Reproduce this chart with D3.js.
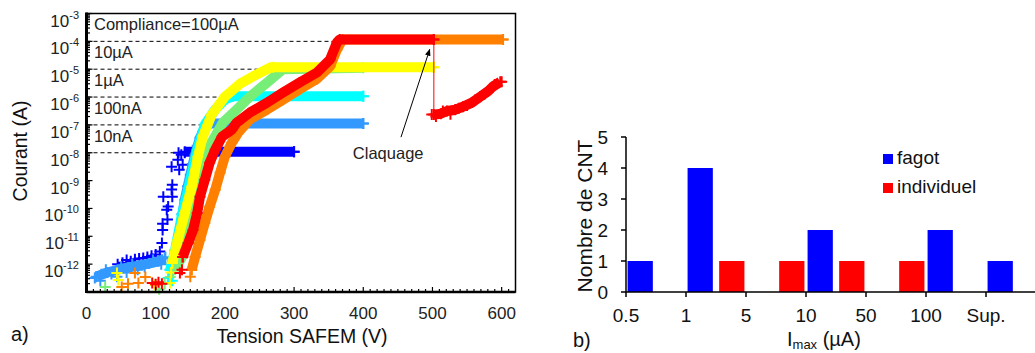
<!DOCTYPE html>
<html><head><meta charset="utf-8">
<script src="https://cdnjs.cloudflare.com/ajax/libs/d3/7.8.5/d3.min.js"></script>
<style>body{margin:0;background:#fff}svg{display:block;font-family:"Liberation Sans",Arial,sans-serif}</style>
</head><body><svg id="c" width="1035" height="353"></svg>
<script>
// ---------- data: panel a ----------
const voltTicks = [0,100,200,300,400,500,600];
const currentExps = [-3,-4,-5,-6,-7,-8,-9,-10,-11,-12];
const complianceExps = [-4,-5,-6,-7,-8];
const complianceLabels = ["Compliance=100µA","10µA","1µA","100nA","10nA"];
const complianceEndV = [356,268,212,174,135];
// series points: [tension V, log10(courant A)]
const darkBlueBand = [[142,-7.96],[300,-7.96]];
const darkBlueMarks = [[45,-12.0],[52,-11.95],[58,-11.85],[64,-11.9],[70,-11.82],[76,-11.8],[82,-11.78],[88,-11.74],[94,-11.7],[100,-11.65],[106,-11.55],[109,-11.24],[110,-10.77],[110,-10.55],[117,-10.4],[116,-10.05],[118,-9.93],[111,-9.58],[124,-9.58],[123,-9.32],[124,-9.15],[123,-8.5],[134,-8.61],[139,-8.43],[132,-8.25],[137,-8.07],[133,-8.0],[142,-8.0],[300,-7.96]];
const lightBlueBand = [[14,-12.45],[30,-12.3],[45,-12.2],[60,-12.12],[75,-12.05],[90,-11.98],[104,-11.9],[113,-11.8]];
const lightBlueRise = [[135,-10.77],[142,-9.69],[150,-8.79],[157,-8.07],[164,-7.46],[171,-7.1],[178,-6.95],[400,-6.95]];
const lightBlueMarks = [[12,-12.5],[20,-12.6],[28,-12.2],[36,-12.35],[44,-12.45],[50,-12.1],[58,-12.3],[66,-12.0],[74,-12.2],[84,-12.1],[96,-11.85],[108,-12.0],[114,-11.75],[121,-12.2],[125,-11.9],[128,-11.67],[132,-11.2],[138,-10.2],[146,-9.2],[153,-8.4],[160,-7.75],[168,-7.25],[400,-6.95]];
const cyanBand = [[121,-12.2],[128,-11.5],[138,-10.23],[150,-8.97],[160,-7.89],[171,-6.99],[186,-6.45],[200,-6.09],[212,-5.97],[400,-5.97]];
const cyanMarks = [[118,-12.5],[121,-12.2],[124,-12.6],[128,-11.5],[400,-5.97]];
const greenBand = [[128,-12.2],[138,-11.74],[147,-10.77],[157,-9.8],[167,-8.72],[176,-7.89],[183,-7.53],[197,-6.92],[217,-6.45],[236,-5.99],[261,-5.48],[284,-5.0],[400,-4.95]];
const greenMarks = [[27,-12.82],[105,-12.9],[113,-12.7],[121,-12.46],[125,-12.3]];
const yellowBand = [[124,-11.96],[132,-11.13],[142,-10.16],[152,-9.22],[161,-8.14],[168,-7.42],[181,-6.63],[200,-5.99],[222,-5.52],[246,-5.19],[265,-4.95],[270,-4.93],[502,-4.93]];
const yellowMarks = [[44,-12.32],[46,-12.57],[99,-12.75],[121,-12.68],[122,-12.3],[124,-11.96],[502,-4.93]];
const orangeBand = [[152,-12.2],[157,-11.74],[164,-11.13],[171,-10.52],[178,-9.94],[186,-9.33],[193,-8.72],[200,-8.14],[210,-7.64],[220,-7.25],[236,-6.8],[261,-6.45],[284,-6.1],[308,-5.72],[333,-5.35],[352,-4.9],[362,-4.3],[370,-3.93],[602,-3.93]];
const orangeMarks = [[51,-12.82],[60,-12.7],[70,-12.32],[75,-12.68],[85,-12.46],[150,-12.45],[152,-12.2],[602,-3.93]];
const redBand = [[139,-11.74],[147,-11.24],[154,-10.77],[160,-10.16],[164,-9.58],[171,-8.97],[178,-8.36],[186,-7.89],[196,-7.42],[210,-7.17],[217,-6.92],[236,-6.56],[261,-6.2],[284,-5.84],[308,-5.48],[333,-5.12],[352,-4.65],[362,-4.04],[366,-3.93],[502,-3.93]];
const redMarks = [[95,-12.68],[100,-12.72],[104,-12.65],[109,-12.7],[135,-12.32],[138,-12.2],[139,-11.74],[502,-3.93]];
const redDrop = [[502,-3.93],[502,-6.6]];
const redAfterBand = [[502,-6.63],[512,-6.6],[521,-6.5],[533,-6.45],[544,-6.35],[557,-6.2],[569,-5.99],[580,-5.8],[587,-5.63],[598,-5.45]];
const redAfterMarks = [[499,-6.63],[505,-6.7],[515,-6.5],[526,-6.62],[538,-6.4],[550,-6.3],[562,-6.1],[575,-5.9],[590,-5.55],[600,-5.45]];
const breakdownArrow = [[454.5,-7.44],[496,-4.29]];
const breakdownLabel = {v:436, e:-8.23, text:"Claquage"};

// ---------- data: panel b ----------
const binLabels = ["0.5","1","5","10","50","100","Sup."];
const fagot = [1,4,0,2,0,2,1];
const individuel = [0,1,1,1,1,0,0];
const countTicks = [0,1,2,3,4,5];

const svg = d3.select("#c");
const txt = "#222";

// ================= panel a =================
const x = d3.scaleLinear().domain([0,620]).range([86.5,515.5]);
const y = d3.scaleLog().domain([1e-13,1e-3]).range([292,13.5]);
const P = d => [x(d[0]), y(Math.pow(10,d[1]))];
const line = d3.line().x(d=>P(d)[0]).y(d=>P(d)[1]);
const gA = svg.append("g");

complianceExps.forEach((e,i)=>{
  gA.append("line").attr("x1",x(0)).attr("x2",x(complianceEndV[i]))
    .attr("y1",y(Math.pow(10,e))).attr("y2",y(Math.pow(10,e)))
    .attr("stroke","#000").attr("stroke-width",1).attr("stroke-dasharray","4,3");
  gA.append("text").attr("x",94).attr("y",y(Math.pow(10,e))-11)
    .attr("font-size",16.5).attr("fill",txt).text(complianceLabels[i]);
});

const series = [
  {c:"#0000FF", bands:[darkBlueBand], marks:darkBlueMarks},
  {c:"#3399FF", bands:[lightBlueBand, lightBlueRise], marks:lightBlueMarks},
  {c:"#00FFFF", bands:[cyanBand], marks:cyanMarks},
  {c:"#77EE77", bands:[greenBand], marks:greenMarks},
  {c:"#FFFF00", bands:[yellowBand], marks:yellowMarks},
  {c:"#FF8000", bands:[orangeBand], marks:orangeMarks},
  {c:"#FF0000", bands:[redBand, redAfterBand], marks:redMarks.concat(redAfterMarks), drop:redDrop}
];
const plus = "M-5.5,0H5.5M0,-5.5V5.5";
series.forEach(s=>{
  const g = gA.append("g");
  if (s.drop) g.append("path").attr("d",line(s.drop)).attr("stroke",s.c).attr("stroke-width",1).attr("fill","none");
  s.bands.forEach(b=>{
    g.append("path").attr("d",line(b)).attr("fill","none").attr("stroke",s.c)
      .attr("stroke-width",10).attr("stroke-linejoin","round");
    b.forEach(d=>{ const p=P(d);
      g.append("path").attr("d",plus).attr("transform",`translate(${p[0]},${p[1]})`)
       .attr("stroke",s.c).attr("stroke-width",2).attr("fill","none");});
  });
  s.marks.forEach(d=>{ const p=P(d);
    g.append("path").attr("d",plus).attr("transform",`translate(${p[0]},${p[1]})`)
      .attr("stroke",s.c).attr("stroke-width",2).attr("fill","none");});
});

svg.append("defs").append("marker").attr("id","ah").attr("viewBox","0 0 10 10")
  .attr("refX",9).attr("refY",5).attr("markerWidth",7).attr("markerHeight",7).attr("orient","auto")
  .append("path").attr("d","M0,1L10,5L0,9Z").attr("fill","#000");
const a0=P(breakdownArrow[0]), a1=P(breakdownArrow[1]);
gA.append("line").attr("x1",a0[0]).attr("y1",a0[1]).attr("x2",a1[0]).attr("y2",a1[1])
  .attr("stroke","#000").attr("stroke-width",1).attr("marker-end","url(#ah)");
const lp = P([breakdownLabel.v, breakdownLabel.e]);
gA.append("text").attr("x",lp[0]).attr("y",lp[1]).attr("text-anchor","middle")
  .attr("font-size",16.5).attr("fill",txt).text(breakdownLabel.text);

gA.append("rect").attr("x",x(0)).attr("y",13.5).attr("width",x(620)-x(0)).attr("height",292-13.5)
  .attr("fill","none").attr("stroke","#000").attr("stroke-width",1.5);
gA.append("line").attr("x1",x(0)).attr("x2",x(0)).attr("y1",12.5).attr("y2",293)
  .attr("stroke","#000").attr("stroke-width",3);
gA.append("line").attr("x1",x(0)).attr("x2",x(620)).attr("y1",292).attr("y2",292)
  .attr("stroke","#000").attr("stroke-width",2.5);

y.ticks(20).forEach(t=>{
  const m = Math.abs(Math.log10(t)-Math.round(Math.log10(t)))<1e-6;
  gA.append("line").attr("x1",x(0)).attr("x2",x(0)+(m?6:3.5)).attr("y1",y(t)).attr("y2",y(t))
    .attr("stroke","#000").attr("stroke-width",1.2);
});
d3.range(0,611,10).forEach(v=>{
  const m = v%100===0;
  gA.append("line").attr("x1",x(v)).attr("x2",x(v)).attr("y1",292).attr("y2",292-(m?5:3))
    .attr("stroke","#000").attr("stroke-width",1.2);
});
voltTicks.forEach(v=>{
  gA.append("text").attr("x",x(v)).attr("y",319).attr("text-anchor","middle")
    .attr("font-size",17).attr("fill",txt).text(v);
});
currentExps.forEach(e=>{
  const t = gA.append("text").attr("x",79).attr("y",y(Math.pow(10,e))+13)
    .attr("text-anchor","end").attr("font-size",17).attr("fill",txt);
  t.append("tspan").text("10");
  t.append("tspan").attr("font-size",11).attr("dy",-8).text(e);
});
gA.append("text").attr("transform","translate(27,151) rotate(-90)").attr("text-anchor","middle")
  .attr("font-size",19.5).attr("fill","#111").text("Courant (A)");
gA.append("text").attr("x",302).attr("y",343).attr("text-anchor","middle")
  .attr("font-size",19.5).attr("fill","#111").text("Tension SAFEM (V)");
gA.append("text").attr("x",11).attr("y",341).attr("font-size",20).attr("fill","#111").text("a)");

// ================= panel b =================
const gB = svg.append("g");
const xb = d3.scaleBand().domain(d3.range(binLabels.length)).range([626,1046]).padding(0);
const xs = d3.scaleBand().domain(["fagot","individuel"]).range([0,xb.bandwidth()]).paddingInner(0.2).paddingOuter(0.05);
const yb = d3.scaleLinear().domain([0,5]).range([292,137]);
const colors = {fagot:"#0000FF", individuel:"#FF0000"};
[["fagot",fagot],["individuel",individuel]].forEach(([k,arr])=>{
  arr.forEach((v,i)=>{ if(v>0) gB.append("rect").attr("x",xb(i)+xs(k)).attr("y",yb(v))
    .attr("width",xs.bandwidth()).attr("height",yb(0)-yb(v)).attr("fill",colors[k]); });
});
gB.append("line").attr("x1",626).attr("x2",1035).attr("y1",yb(0)).attr("y2",yb(0)).attr("stroke","#000").attr("stroke-width",1.5);
gB.append("line").attr("x1",626).attr("x2",626).attr("y1",yb(5)).attr("y2",yb(0)).attr("stroke","#000").attr("stroke-width",1.5);
countTicks.forEach(t=>{
  gB.append("line").attr("x1",621).attr("x2",626).attr("y1",yb(t)).attr("y2",yb(t)).attr("stroke","#000").attr("stroke-width",1.5);
  gB.append("text").attr("x",608).attr("y",yb(t)+6.5).attr("text-anchor","end").attr("font-size",19).attr("fill","#111").text(t);
});
binLabels.forEach((l,i)=>{
  gB.append("line").attr("x1",xb(i)).attr("x2",xb(i)).attr("y1",yb(0)).attr("y2",yb(0)+5).attr("stroke","#000").attr("stroke-width",1.5);
  gB.append("text").attr("x",xb(i)).attr("y",322).attr("text-anchor","middle").attr("font-size",19).attr("fill","#111").text(l);
});
gB.append("text").attr("transform","translate(592,216) rotate(-90)").attr("text-anchor","middle")
  .attr("font-size",21).attr("fill","#111").text("Nombre de CNT");
const xt = gB.append("text").attr("x",787).attr("y",346).attr("font-size",20).attr("fill","#111");
xt.append("tspan").text("I");
xt.append("tspan").attr("font-size",13).attr("dy",3).text("max");
xt.append("tspan").attr("dy",-3).text(" (µA)");
gB.append("text").attr("x",573).attr("y",347).attr("font-size",20).attr("fill","#111").text("b)");
[["fagot",154],["individuel",183]].forEach(([k,yy])=>{
  gB.append("rect").attr("x",883).attr("y",yy).attr("width",10).attr("height",10).attr("fill",colors[k]);
  gB.append("text").attr("x",897).attr("y",yy+10).attr("font-size",19).attr("fill","#111").text(k);
});
</script></body></html>
